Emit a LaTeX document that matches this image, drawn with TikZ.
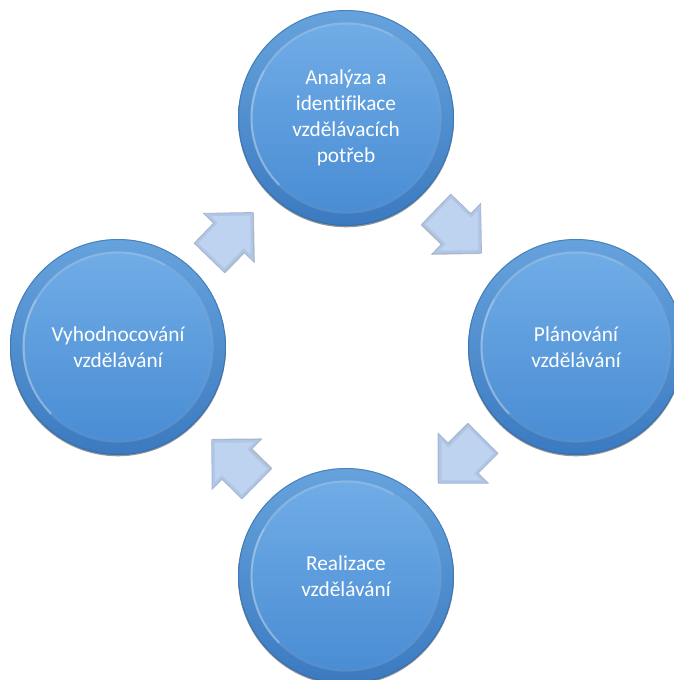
\documentclass[tikz,border=0pt]{standalone}
\usepackage{fontspec}
\setmainfont{Carlito}[Ligatures=NoCommon]
\usetikzlibrary{shadows}

\definecolor{ringtop}{HTML}{66A3DD}
\definecolor{ringbot}{HTML}{3B7AC0}
\definecolor{disctop}{HTML}{70ACE6}
\definecolor{discbot}{HTML}{4A8DD4}
\definecolor{arrowfill}{HTML}{BDD3F0}
\definecolor{arrowedge}{HTML}{A2B7D3}
\definecolor{arrowbevel}{HTML}{B0C6E4}

\tikzset{
  stage/.style={
    circle, inner sep=0pt, minimum size=216pt,
    top color=ringtop, bottom color=ringbot,
    drop shadow={shadow xshift=0pt, shadow yshift=-1.3pt, opacity=.55, fill=black!75},
    text=white, align=center,
    font=\fontsize{21.3}{26}\selectfont,
    path picture={
      \coordinate (pc) at (path picture bounding box.center);
      % dark outer edge
      \draw[ringbot!80!black, line width=1pt, opacity=.5] (pc) circle (107.5pt);
      % inner disc of the bevel
      \shade[top color=disctop, bottom color=discbot] (pc) circle (93.5pt);
      % light rim of the bevel, strongest on the left
      \draw[white, opacity=.12, line width=2.2pt] (pc) circle (94.5pt);
      \draw[white, opacity=.3, line width=2pt] ([shift={(150:94.5pt)}]pc) arc (150:225:94.5pt);
      \draw[white, opacity=.15, line width=2pt] ([shift={(60:94.5pt)}]pc) arc (60:150:94.5pt);
    }
  },
  pics/cyclearrow/.style={code={
    % drop shadow of the block arrow
    \fill[black!70, opacity=.35, yshift=-1.2pt]
      (-31.5,-21) -- (-3.5,-21) -- (-3.5,-35) -- (31.5,0) -- (-3.5,35) -- (-3.5,21) -- (-31.5,21) -- cycle;
    % arrow body with bevelled edge
    \filldraw[fill=arrowbevel, draw=arrowedge, line width=.8pt, line join=miter]
      (-31.5,-21) -- (-3.5,-21) -- (-3.5,-35) -- (31.5,0) -- (-3.5,35) -- (-3.5,21) -- (-31.5,21) -- cycle;
    \fill[arrowfill]
      (-28.5,-18) -- (-0.5,-18) -- (-0.5,-27.7) -- (27.3,0) -- (-0.5,27.7) -- (-0.5,18) -- (-28.5,18) -- cycle;
  }}
}

\begin{document}
\begin{tikzpicture}[x=1pt, y=1pt]
  \useasboundingbox (0,0) rectangle (673,680);

  \coordinate (hub) at (347,333);

  % cycle stages
  \node[stage] (analyza)  at (346,562) {Analýza a\\identifikace\\vzdělávacích\\potřeb};
  \node[stage] (planovani) at (576,333) {Plánování\\vzdělávání};
  \node[stage] (realizace) at (346,104) {Realizace\\vzdělávání};
  \node[stage] (vyhodnoceni) at (118,333) {Vyhodnocování\\vzdělávání};

  % block arrows between the stages, tangent to the cycle
  \pic[rotate=-44]  at ([shift={(46:161)}]hub)    {cyclearrow};
  \pic[rotate=-135] at ([shift={(315:161)}]hub)   {cyclearrow};
  \pic[rotate=135.5] at ([shift={(225.5:161)}]hub) {cyclearrow};
  \pic[rotate=46]   at ([shift={(136:161)}]hub)   {cyclearrow};
\end{tikzpicture}
\end{document}
